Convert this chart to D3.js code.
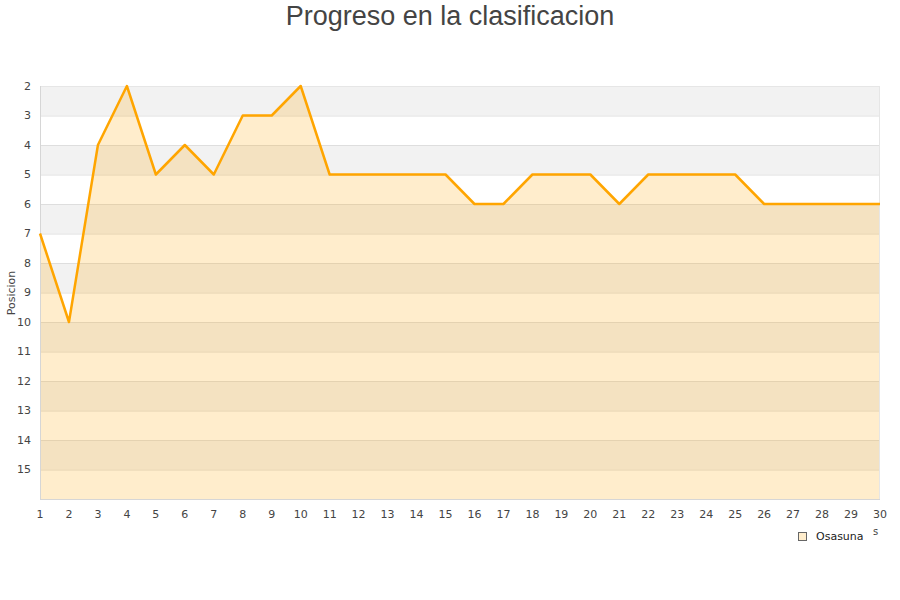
<!DOCTYPE html>
<html><head><meta charset="utf-8">
<script src="https://cdn.jsdelivr.net/npm/d3@7"></script>
<style>body{margin:0;background:#fff}svg{display:block}</style>
</head><body>
<svg id="c" width="900" height="600"></svg>
<script>
const jornadas = d3.range(1, 31);
const posiciones = [7,10,4,2,5,4,5,3,3,2,5,5,5,5,5,6,6,5,5,5,6,5,5,5,5,6,6,6,6,6];
const yTicks = [2,3,4,5,6,7,8,9,10,11,12,13,14,15];
const teamName = "Osasuna";
const title = "Progreso en la clasificacion";

const svg = d3.select("#c");
const m = {l:40, r:880, t:86, b:499};
const x = d3.scaleLinear().domain([1,30]).range([m.l, m.r]);
const y = d3.scaleLinear().domain([2,16]).range([m.t, m.b]);

// alternating bands
const bands = d3.range(2,16);
svg.selectAll("rect.band").data(bands).enter().append("rect")
  .attr("x", m.l).attr("width", m.r-m.l)
  .attr("y", d=>y(d)).attr("height", d=>y(d+1)-y(d))
  .attr("fill", d=> d%2===0 ? "#f2f2f2" : "#ffffff");

// grid lines
svg.selectAll("line.grid").data(d3.range(3,16)).enter().append("line")
  .attr("x1", m.l).attr("x2", m.r).attr("y1", d=>y(d)+0.5).attr("y2", d=>y(d)+0.5)
  .attr("stroke", "#dedede").attr("stroke-width", 1);

// area
const area = d3.area().x((d,i)=>x(jornadas[i])).y0(m.b).y1(d=>y(d));
svg.append("path").datum(posiciones).attr("d", area)
  .attr("fill", "#ffa500").attr("fill-opacity", 0.2);

// border
svg.append("rect").attr("x", m.l+0.5).attr("y", m.t+0.5).attr("width", m.r-m.l-1).attr("height", m.b-m.t)
  .attr("fill", "none").attr("stroke", "#e6e6e6");
svg.append("line").attr("x1", m.l+0.5).attr("x2", m.l+0.5).attr("y1", m.t).attr("y2", m.b+1).attr("stroke", "#d6d6d6");
svg.append("line").attr("x1", m.l).attr("x2", m.r).attr("y1", m.b+0.5).attr("y2", m.b+0.5).attr("stroke", "#d6d6d6");

// line
const line = d3.line().x((d,i)=>x(jornadas[i])).y(d=>y(d));
svg.append("path").datum(posiciones).attr("d", line)
  .attr("fill", "none").attr("stroke", "#ffa500").attr("stroke-width", 2.5).attr("stroke-linejoin","round");

// y axis labels
const font = "'DejaVu Sans', Verdana, sans-serif";
svg.selectAll("text.yt").data(yTicks).enter().append("text")
  .attr("x", 31).attr("y", d=>y(d)).attr("dy", "0.35em")
  .attr("text-anchor", "end").attr("font-family", font).attr("font-size", 11).attr("fill", "#444")
  .text(d=>d);

// x axis labels
svg.selectAll("text.xt").data(jornadas).enter().append("text")
  .attr("x", d=>x(d)).attr("y", 518)
  .attr("text-anchor", "middle").attr("font-family", font).attr("font-size", 11).attr("fill", "#444")
  .text(d=>d);

// y title
svg.append("text").attr("transform", "translate(15,293) rotate(-90)")
  .attr("text-anchor", "middle").attr("font-family", font).attr("font-size", 11).attr("fill", "#444")
  .text("Posicion");

// clipped x title remnant
svg.append("text").attr("x", 873).attr("y", 535).attr("font-family", font).attr("font-size", 10).attr("fill", "#444").text("s");

// title
svg.append("text").attr("x", 450).attr("y", 25).attr("text-anchor", "middle")
  .attr("font-family", "'Liberation Sans', Arial, sans-serif").attr("font-size", 27).attr("fill", "#444")
  .text(title);

// legend
svg.append("rect").attr("x", 798.5).attr("y", 532.5).attr("width", 8).attr("height", 8)
  .attr("fill", "#ffedcc").attr("stroke", "#666").attr("stroke-width", 1);
svg.append("text").attr("x", 816).attr("y", 540).attr("font-family", font).attr("font-size", 11).attr("fill", "#222").text(teamName);
</script>
</body></html>
